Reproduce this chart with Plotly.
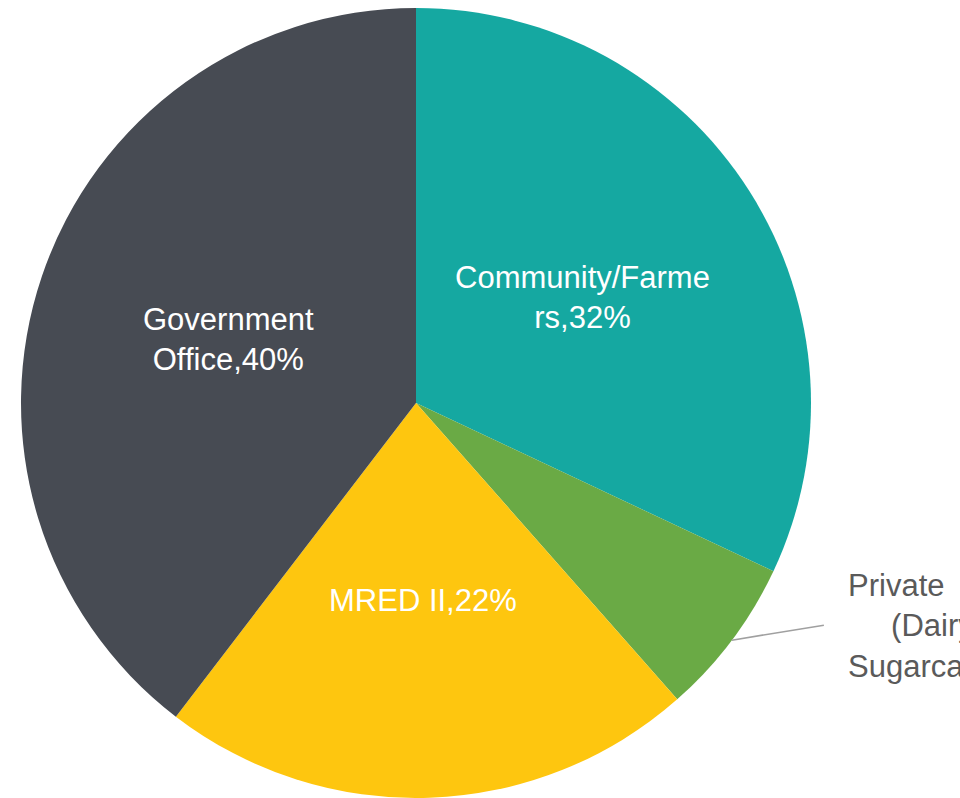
import math
import plotly.graph_objects as go

# ---- data ----
labels = ["Community/Farmers", "Private Sector (Dairy/Tea/Sugarcane)", "MRED II", "Government Office"]
values = [32.0, 6.5, 21.9, 39.6]
label_text = ["Community/Farme<br>rs,32%", "Private\u00a0\u00a0Sector<br>\u00a0\u00a0\u00a0\u00a0\u00a0(Dairy/Tea/<br>Sugarcane),6%", "MRED II,22%", "Government<br>Office,40%"]
colors = ["#15A8A1", "#6AAA45", "#FEC60F", "#474B53"]

W, H = 960, 798
cx, cy, r = 416, 403, 395
dom_x = [(cx - r) / W, (cx + r) / W]
dom_y = [1 - (cy + r) / H, 1 - (cy - r) / H]

fig = go.Figure(go.Pie(
    labels=labels, values=values, sort=False, direction="clockwise", rotation=0,
    marker=dict(colors=colors, line=dict(width=0)),
    textinfo="none", hoverinfo="label+percent", showlegend=False,
    domain=dict(x=dom_x, y=dom_y),
))

total = sum(values)
annotations = []
shapes = []
cum = 0.0
FONT = "Liberation Sans, Arial, sans-serif"
for i, v in enumerate(values):
    a0 = cum / total * 360
    cum += v
    a1 = cum / total * 360
    mid = math.radians((a0 + a1) / 2)
    if v / total > 0.1:
        px = cx + 0.5 * r * math.sin(mid)
        py = cy - 0.5 * r * math.cos(mid)
        annotations.append(dict(
            x=px / W, y=1 - py / H, xref="paper", yref="paper",
            text=label_text[i], showarrow=False, align="center",
            xanchor="center", yanchor="middle",
            font=dict(family=FONT, size=31, color="#FFFFFF"),
        ))
    else:
        sx = cx + r * math.sin(mid)
        sy = cy - r * math.cos(mid)
        ex, ey = sx + 92, sy - 15
        shapes.append(dict(type="line", xref="paper", yref="paper",
                           x0=sx / W, y0=1 - sy / H, x1=ex / W, y1=1 - ey / H,
                           line=dict(color="#A0A0A0", width=1.6)))
        annotations.append(dict(
            x=(ex + 22) / W, y=1 - (ey + 1) / H, xref="paper", yref="paper",
            text=label_text[i], showarrow=False, align="left",
            xanchor="left", yanchor="middle",
            font=dict(family=FONT, size=31, color="#5A5A5A"),
        ))

fig.update_layout(
    width=W, height=H, margin=dict(l=0, r=0, t=0, b=0),
    paper_bgcolor="#FFFFFF", plot_bgcolor="#FFFFFF",
    annotations=annotations, shapes=shapes,
)
fig.write_html("out.html")
